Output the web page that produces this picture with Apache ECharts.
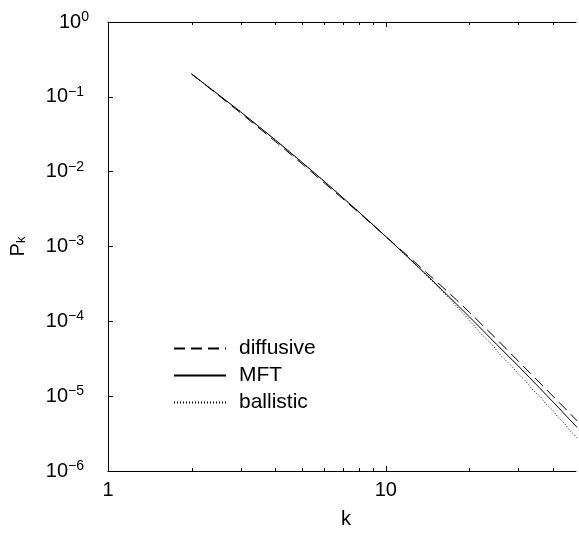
<!DOCTYPE html>
<html>
<head>
<meta charset="utf-8">
<script src="https://cdn.jsdelivr.net/npm/echarts@6/dist/echarts.min.js"></script>
<style>html,body{margin:0;padding:0;background:#fff}#c{width:579px;height:534px}</style>
</head>
<body>
<div id="c"></div>
<script>
// ---- data ----
const kMFT = [2, 3, 4, 5, 6, 7, 8, 9, 10, 12, 14, 16, 18, 20, 25, 30, 35, 40, 45, 50];
const pMFT = [0.2018, 0.0632, 0.0266, 0.0133, 0.00744, 0.00450, 0.002893, 0.001949, 0.001360, 0.000724, 0.000420, 0.000260, 0.0001693, 0.0001149, 4.97e-5, 2.532e-5, 1.403e-5, 8.38e-6, 5.28e-6, 3.49e-6];

const kDiff = [2, 3, 4, 5, 6, 7, 8, 9, 10, 12, 14, 16, 18, 20, 25, 30, 35, 40, 45, 50];
const pDiff = [0.202, 0.0611, 0.0254, 0.0127, 0.00711, 0.00435, 0.002827, 0.001927, 0.001360, 0.000749, 0.000450, 0.000288, 0.0001922, 0.0001325, 5.84e-5, 2.948e-5, 1.650e-5, 9.96e-6, 6.43e-6, 4.28e-6];

const kBall = [2, 3, 4, 5, 6, 7, 8, 9, 10, 12, 14, 16, 18, 20, 22, 24, 26, 28, 30, 32, 34, 36, 38, 40, 42, 44, 46, 48, 50];
const pBall = [0.2018, 0.0632, 0.0266, 0.0133, 0.00744, 0.00450, 0.002893, 0.001949, 0.001360, 0.000716, 0.000412, 2.512e-4, 1.581e-4, 1.035e-4, 6.855e-5, 5.0e-5, 3.483e-5, 2.655e-5, 1.986e-5, 1.567e-5, 1.180e-5, 9.87e-6, 7.60e-6, 6.43e-6, 5.06e-6, 4.34e-6, 3.46e-6, 2.99e-6, 2.44e-6];

const seriesNames = ['diffusive', 'MFT', 'ballistic'];
const xTickValues = [1, 2, 3, 4, 5, 6, 7, 8, 9, 10, 20, 30, 40];
const xMajorTicks = [1, 10];
const yTickExponents = [0, -1, -2, -3, -4, -5, -6];

// ---- chart ----
const FONT = "'Liberation Sans', Arial, Helvetica, sans-serif";
const zip = (xs, ys) => xs.map((x, i) => [x, ys[i]]);
const isPow10 = v => Math.abs(Math.log10(v) - Math.round(Math.log10(v))) < 1e-6;

const chart = echarts.init(document.getElementById('c'), null, {renderer: 'canvas'});
const X_MIN = 1, X_MAX = 48.4, Y_MIN = 1e-6, Y_MAX = 1;
const hiddenSymbol = {color: 'rgba(0,0,0,0)', borderWidth: 0, borderColor: 'rgba(0,0,0,0)'};

chart.setOption({
  animation: false,
  backgroundColor: '#fff',
  textStyle: {fontFamily: FONT, color: '#000'},
  grid: {left: 103, right: -2, top: 22, bottom: 60, containLabel: false},
  legend: {
    data: seriesNames,
    orient: 'vertical',
    left: 173,
    top: 335,
    padding: 0,
    itemWidth: 52,
    itemHeight: 14,
    itemGap: 0,
    textStyle: {fontFamily: FONT, fontSize: 21, color: '#000', lineHeight: 27, padding: [0, 0, 0, 8]}
  },
  xAxis: [{
    type: 'log', logBase: 10, min: X_MIN, max: X_MAX,
    position: 'bottom',
    axisLine: {show: true, lineStyle: {color: '#000', width: 1}},
    axisTick: {show: false},
    splitLine: {show: false},
    minorTick: {show: false},
    axisLabel: {
      fontFamily: FONT, fontSize: 20, color: '#000', margin: 9,
      formatter: v => (isPow10(v) && v <= 10) ? String(Math.round(v)) : ''
    },
    name: 'k', nameLocation: 'middle', nameGap: 38,
    nameTextStyle: {fontFamily: FONT, fontSize: 20, color: '#000', padding: [0, 0, 0, 8]}
  }, {
    type: 'log', logBase: 10, min: X_MIN, max: X_MAX,
    position: 'top',
    axisLine: {show: true, lineStyle: {color: '#000', width: 1}},
    axisTick: {show: false}, axisLabel: {show: false}, splitLine: {show: false}
  }],
  yAxis: [{
    type: 'log', logBase: 10, min: Y_MIN, max: Y_MAX,
    axisLine: {show: true, lineStyle: {color: '#000', width: 1}},
    axisTick: {show: true, inside: true, length: 5, lineStyle: {color: '#000'}},
    splitLine: {show: false},
    axisLabel: {
      margin: 19,
      formatter: v => {
        const e = Math.round(Math.log10(v));
        if (!yTickExponents.includes(e)) return '';
        return e === 0 ? '{b|10}{z|0}' : '{b|10}{s|\u2212' + (-e) + '}';
      },
      rich: {
        b: {fontFamily: FONT, fontSize: 20, color: '#000'},
        s: {fontFamily: FONT, fontSize: 14, color: '#000', padding: [0, 5, 10, 0]},
        z: {fontFamily: FONT, fontSize: 14, color: '#000', padding: [0, 0, 10, 0]}
      }
    },
    name: '{p|P}{k|k}', nameLocation: 'middle', nameRotate: 90, nameGap: 74,
    nameTextStyle: {
      rich: {
        p: {fontFamily: FONT, fontSize: 20, color: '#000', padding: [0, 0, 6, 0]},
        k: {fontFamily: FONT, fontSize: 13, color: '#000'}
      }
    }
  }],
  series: [
    {
      name: 'diffusive', type: 'line', data: zip(kDiff, pDiff), symbol: 'none',
      lineStyle: {color: '#000', width: 1, type: [11, 6]}, itemStyle: hiddenSymbol, z: 3
    },
    {
      name: 'MFT', type: 'line', data: zip(kMFT, pMFT), symbol: 'none',
      lineStyle: {color: '#000', width: 1, type: 'solid'}, itemStyle: hiddenSymbol, z: 4
    },
    {
      name: 'ballistic', type: 'line', data: zip(kBall, pBall), symbol: 'none',
      lineStyle: {color: '#000', width: 1, type: [1, 2]}, itemStyle: hiddenSymbol, z: 2
    },
    {
      name: 'xticks', type: 'custom', silent: true, clip: false,
      data: xTickValues.map(k => [k, Y_MIN]),
      encode: {x: 0, y: 1},
      renderItem: (params, api) => {
        const k = api.value(0);
        const len = xMajorTicks.includes(k) ? 5 : 3;
        const b = api.coord([k, Y_MIN]);
        const t = api.coord([k, Y_MAX]);
        const x = Math.round(b[0]) + 0.5;
        return {
          type: 'group',
          children: [
            {type: 'line', shape: {x1: x, y1: b[1], x2: x, y2: b[1] - len}, style: {stroke: '#000', lineWidth: 1}},
            {type: 'line', shape: {x1: x, y1: t[1], x2: x, y2: t[1] + len}, style: {stroke: '#000', lineWidth: 1}}
          ]
        };
      },
      z: 5
    }
  ]
});
</script>
</body>
</html>
